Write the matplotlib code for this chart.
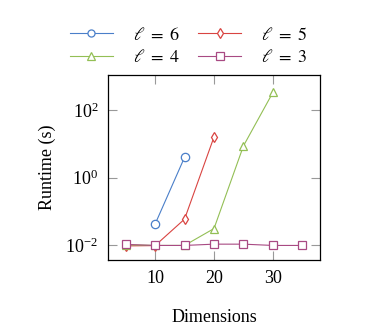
import matplotlib
matplotlib.use("Agg")
import matplotlib.pyplot as plt

plt.rcParams['font.family'] = ['Liberation Serif', 'DejaVu Serif']
plt.rcParams['mathtext.fontset'] = 'stix'
plt.rcParams['font.size'] = 13

# runtime (s) per number of dimensions, one series per level
dims_l6 = [10, 15]
time_l6 = [0.042, 4.0]
dims_l5 = [5, 10, 15, 20]
time_l5 = [0.0095, 0.0097, 0.059, 16.0]
dims_l4 = [5, 10, 15, 20, 25, 30]
time_l4 = [0.0102, 0.0098, 0.0098, 0.031, 8.7, 333.0]
dims_l3 = [5, 10, 15, 20, 25, 30, 35]
time_l3 = [0.0105, 0.0098, 0.0098, 0.0107, 0.0107, 0.0098, 0.0098]

fig = plt.figure(figsize=(3.68, 3.28), dpi=100)
ax = fig.add_axes([108 / 368, 1 - 260 / 328, 212 / 368, 185 / 328])

lw = 0.8
h6, = ax.plot(dims_l6, time_l6, color='#4a7fc9', marker='o', ms=6, mfc='white', lw=lw, mew=0.9, label=r'$\ell\ =\ 6$')
h5, = ax.plot(dims_l5, time_l5, color='#d94441', marker='d', ms=5.5, mfc='white', lw=lw, mew=0.9, label=r'$\ell\ =\ 5$')
h4, = ax.plot(dims_l4, time_l4, color='#93bf55', marker='^', ms=6, mfc='white', lw=lw, mew=0.9, label=r'$\ell\ =\ 4$')
h3, = ax.plot(dims_l3, time_l3, color='#a84a83', marker='s', ms=6, mfc='white', lw=lw, mew=0.9, label=r'$\ell\ =\ 3$')

ax.set_yscale('log')
ax.set_xlim(2, 38)
ax.set_ylim(10 ** -2.44, 10 ** 3.04)
ax.set_xticks([10, 20, 30])
ax.set_yticks([1e-2, 1, 1e2])
ax.minorticks_off()
ax.tick_params(direction='in', length=6.5, width=0.8, color='#999999',
               top=True, right=True, labelsize=13, pad=7)
for s in ax.spines.values():
    s.set_linewidth(0.9)

ax.set_xlabel('Dimensions', fontsize=13, labelpad=16)
ax.set_ylabel('Runtime (s)', fontsize=13, labelpad=7)

# row-major order like the original: (6, 5) / (4, 3)
ax.legend([h6, h4, h5, h3], [h.get_label() for h in [h6, h4, h5, h3]],
          ncol=2, frameon=False, loc='lower center', bbox_to_anchor=(0.38, 1.01),
          handlelength=2.4, columnspacing=1.0, handletextpad=1.1, markerscale=0.85,
          fontsize=13, labelspacing=0.3, borderaxespad=0)

fig.savefig('out.png', dpi=100)
